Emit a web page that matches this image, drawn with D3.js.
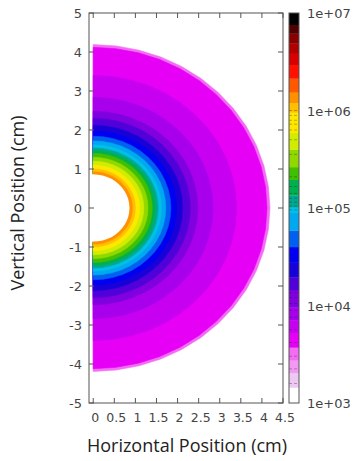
<!DOCTYPE html>
<html><head><meta charset="utf-8">
<script src="https://cdn.jsdelivr.net/npm/d3@7"></script>
<style>body{margin:0;background:#fff}svg{display:block}text{font-family:"DejaVu Sans",sans-serif;fill:#444}</style>
</head><body><svg id="c" width="359" height="461"></svg>
<script>
// ---- data ----
const xTicks = [0,0.5,1,1.5,2,2.5,3,3.5,4,4.5];
const yTicks = [-5,-4,-3,-2,-1,0,1,2,3,4,5];
const cbTickValues = [1e3,1e4,1e5,1e6,1e7];
const cbTickLabels = ["1e+03","1e+04","1e+05","1e+06","1e+07"];
// colour bar band boundaries (log10 of value) and colours
const cbBreaks = [3.0,3.16,3.31,3.44,3.57,3.72,3.85,3.98,4.16,4.29,4.44,4.6,4.77,4.95,5.01,5.13,5.29,5.42,5.6,5.77,5.98,6.08,6.19,6.33,6.47,6.59,6.69,6.79,6.88,7.0];
const cbColors = ["#ffffff","#ecc8f2","#f29af2","#f26cf4","#e600f6","#c800f2","#a800ec","#8000e0","#5000d8","#1800d8","#0000f0","#0060f0","#00a8f0","#00c0e8","#00a890","#00b050","#40c000","#90d800","#d0ec00","#ffe800","#ffc000","#ff9000","#ff5800","#ff1000","#d80000","#b00000","#880000","#500000","#000000"];
// contour marker levels drawn on the colour bar (log10)
const cbMarks = [3.2,3.35,3.48,3.62,3.75,3.88,3.95,4.02,4.08,4.13,4.98,5.02,5.06,5.1,5.15,5.22,5.32,5.55,5.7,5.8,5.86,5.9,5.95,6.0];
// radial contour bands: outer radius (cm) and level (log10 value)
const ringOuterRadius = [4.19,4.12,3.4,2.84,2.48,2.3,2.12,1.98,1.84,1.72,1.62,1.54,1.48,1.4,1.3,1.2,1.1,1.0,0.93];
const ringLevel =       [3.5, 3.65,3.78,3.9,4.05,4.2,4.35,4.5,4.7,4.85,4.98,5.05,5.2,5.35,5.5,5.65,5.85,6.02,6.1];
const innerRadius = 0.83;

// ---- layout ----
const svg = d3.select("#c");
const L=89, R=283, T=13, B=403;
const x = d3.scaleLinear().domain([-0.1,4.5]).range([L,R]);
const y = d3.scaleLinear().domain([-5,5]).range([B,T]);
const color = d3.scaleThreshold().domain(cbBreaks.slice(1,-1)).range(cbColors);

// ---- contour rings ----
const nSeg = 24;
function halfDisk(r){
  const pts = d3.range(nSeg+1).map(i=>{
    const a = -Math.PI/2 + Math.PI*i/nSeg;
    return [x(r*Math.cos(a)), y(r*Math.sin(a))];
  });
  return d3.line()(pts)+"Z";
}
const plot = svg.append("g");
ringOuterRadius.forEach((r,i)=>{
  plot.append("path").attr("d",halfDisk(r)).attr("fill",color(ringLevel[i]))
    .attr("stroke",color(ringLevel[i])).attr("stroke-width",0.6);
});
plot.append("path").attr("d",halfDisk(innerRadius)).attr("fill","#fff")
  .attr("stroke","#fff").attr("stroke-width",2.5);

// ---- frame and ticks ----
const tk = 5;
svg.append("rect").attr("x",L).attr("y",T).attr("width",R-L).attr("height",B-T)
  .attr("fill","none").attr("stroke","#555").attr("stroke-width",1);
const axG = svg.append("g").attr("stroke","#555").attr("stroke-width",1);
xTicks.forEach(v=>{
  axG.append("line").attr("x1",x(v)).attr("x2",x(v)).attr("y1",B).attr("y2",B-tk);
  axG.append("line").attr("x1",x(v)).attr("x2",x(v)).attr("y1",T).attr("y2",T+tk);
});
yTicks.forEach(v=>{
  axG.append("line").attr("x1",L).attr("x2",L+tk).attr("y1",y(v)).attr("y2",y(v));
  axG.append("line").attr("x1",R).attr("x2",R-tk).attr("y1",y(v)).attr("y2",y(v));
});
svg.append("g").selectAll("text").data(xTicks).join("text")
  .attr("x",d=>x(d)+2).attr("y",B+19).attr("text-anchor","middle")
  .attr("font-size",12.5).text(d=>d);
svg.append("g").selectAll("text").data(yTicks).join("text")
  .attr("x",L-7).attr("y",d=>y(d)+5).attr("text-anchor","end")
  .attr("font-size",13).text(d=>d);
svg.append("text").attr("x",187).attr("y",452).attr("text-anchor","middle")
  .attr("font-size",18).style("font-family","'Open Sans',sans-serif").style("fill","#222")
  .text("Horizontal Position (cm)");
svg.append("text").attr("transform","translate(24,203) rotate(-90)").attr("text-anchor","middle")
  .attr("font-size",18).style("font-family","'Open Sans',sans-serif").style("fill","#222")
  .text("Vertical Position (cm)");

// ---- colour bar ----
const cbX = 289, cbW = 10;
const cy = d3.scaleLinear().domain([3,7]).range([B,T]);
const cbG = svg.append("g");
cbColors.forEach((c,i)=>{
  cbG.append("rect").attr("x",cbX).attr("width",cbW)
    .attr("y",cy(cbBreaks[i+1])).attr("height",cy(cbBreaks[i])-cy(cbBreaks[i+1])+0.3)
    .attr("fill",c);
});
cbMarks.forEach(v=>{
  cbG.append("line").attr("x1",cbX).attr("x2",cbX+cbW).attr("y1",cy(v)).attr("y2",cy(v))
    .attr("stroke","rgba(0,0,0,0.35)").attr("stroke-width",0.8).attr("stroke-dasharray","3,2");
});
cbG.append("rect").attr("x",cbX).attr("y",T).attr("width",cbW).attr("height",B-T)
  .attr("fill","none").attr("stroke","#555").attr("stroke-width",1);
const cbLog = d3.scaleLog().domain([1e3,1e7]).range([B,T]);
svg.append("g").selectAll("text").data(cbTickValues).join("text")
  .attr("x",307).attr("y",d=>cbLog(d)+5).attr("font-size",13)
  .text((d,i)=>cbTickLabels[i]);
</script></body></html>
